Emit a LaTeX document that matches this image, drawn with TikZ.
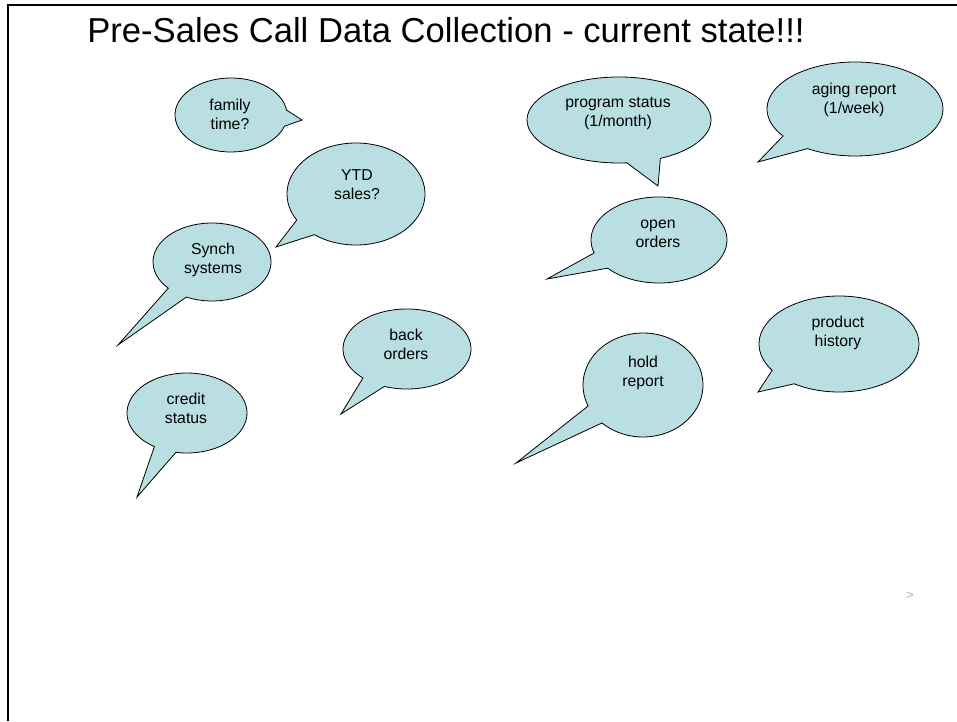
\documentclass[tikz,border=0pt]{standalone}
\usepackage{fontspec}
\setmainfont{Liberation Sans}
\usetikzlibrary{calc}
\definecolor{bubblefill}{RGB}{185,223,226}
\definecolor{hintgrey}{RGB}{175,175,175}

% Speech bubble: centre (cx,cy), radii rx/ry, gap between angles a1<a2
% on the rim, tail tip (tx,ty). Positions are given with y growing downward.
\newcommand\speechbubble[8]{%
  \pgfmathsetmacro\bcy{721-#2}%
  \pgfmathsetmacro\bty{721-#8}%
  \pgfmathsetmacro\bendang{#5+360}%
  \draw[bubble] ($(#1,\bcy)+(#6:#3pt and #4pt)$)
    arc[start angle=#6, end angle=\bendang, x radius=#3pt, y radius=#4pt]
    -- (#7,\bty) -- cycle;%
}

\tikzset{
  bubble/.style={fill=bubblefill, draw=black, line width=0.8pt, line join=miter},
  bubbletext/.style={font=\fontsize{15.8}{19}\selectfont, align=center, inner sep=0pt},
  frame/.style={line width=2pt, draw=black}
}

\begin{document}
\begin{tikzpicture}[x=1pt, y=1pt]
\useasboundingbox (0,0) rectangle (957,721);
\fill[white] (0,0) rectangle (957,721);

% slide frame (top and left edges)
\draw[frame] (8,0) -- (8,716) -- (957,716);

% title
\node[anchor=base, font=\fontsize{34.6}{40}\selectfont, inner sep=0pt] (title)
  at (446,678) {Pre-Sales Call Data Collection - current state!!!};

% callout shapes
\speechbubble{231}{115}{56}{37}{-17.7}{7.7}{302}{120}
\speechbubble{356}{194}{69}{51}{210.8}{232.9}{276}{247}
\speechbubble{212}{262}{59}{39}{222.2}{244.2}{118}{345}
\speechbubble{407}{349}{64}{40}{226.5}{249.3}{341}{414}
\speechbubble{187}{413}{60}{40}{237.1}{259.4}{137}{497}
\speechbubble{619}{120}{92}{43}{274.9}{296.7}{658}{186}
\speechbubble{855}{109}{88}{47}{215.1}{237.4}{758}{162}
\speechbubble{659}{240}{68}{43}{197.5}{220.9}{547}{279}
\speechbubble{643}{385}{60}{52}{203.8}{226.9}{516}{463}
\speechbubble{839}{344}{80}{48}{213.3}{236.0}{758}{392}

% callout texts
\node[bubbletext] (family)  at (230,{721-114})   {family\\time?};
\node[bubbletext] (ytd)     at (357,{721-185})   {YTD\\sales?};
\node[bubbletext] (synch)   at (213,{721-259.5}) {Synch\\systems};
\node[bubbletext] (back)    at (406,{721-344})   {back\\orders};
\node[bubbletext] (credit)  at (186,{721-408})   {credit\\status};
\node[bubbletext] (program) at (618,{721-113.5}) {program status\\(1/month)};
\node[bubbletext] (aging)   at (854,{721-99.5})  {aging report\\(1/week)};
\node[bubbletext] (open)    at (658,{721-234})   {open\\orders};
\node[bubbletext] (hold)    at (643,{721-373})   {hold\\report};
\node[bubbletext] (product) at (838,{721-333})   {product\\history};

% small navigation mark
\node[text=hintgrey, font=\fontsize{13}{15}\selectfont, inner sep=0pt] (nav)
  at (910,{721-596}) {>};
\end{tikzpicture}
\end{document}
